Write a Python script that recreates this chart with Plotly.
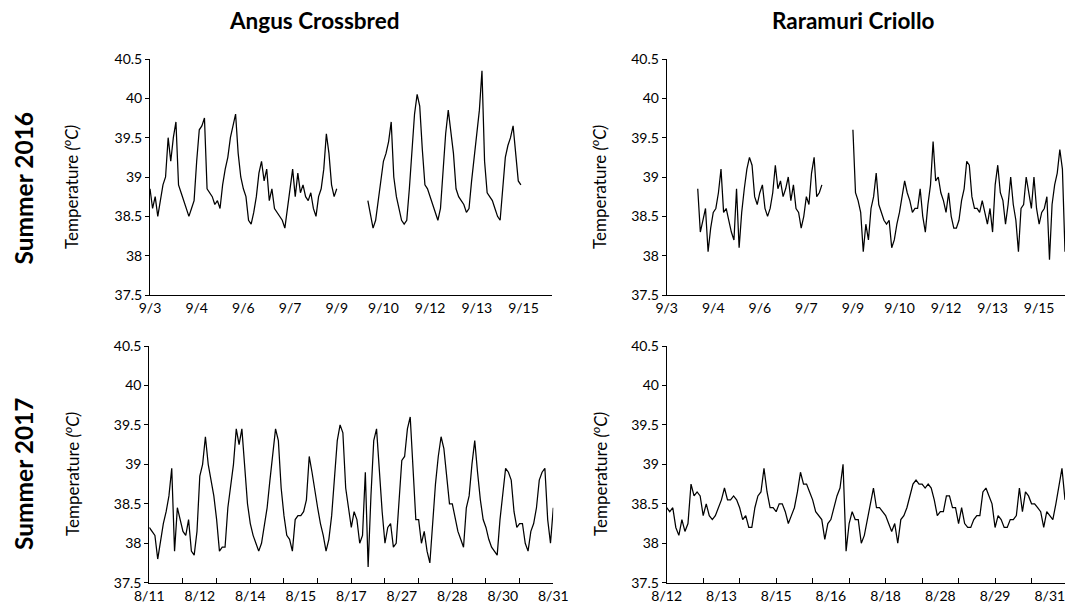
import numpy as np
import plotly.graph_objects as go

# ---------------- data (2-hour samples) ----------------
STEP_H = 2

# Angus Crossbred, summer 2016 (starts 9/3 00:00)
angus_2016_start = 0
angus_2016 = [
    38.85, 38.6, 38.75, 38.5, 38.7, 38.9, 39.0, 39.5, 39.2, 39.5, 39.7, 38.9,
    38.8, 38.7, 38.6, 38.5, 38.6, 38.7, 39.2, 39.6, 39.65, 39.75, 38.85, 38.8,
    38.75, 38.65, 38.7, 38.6, 38.9, 39.1, 39.25, 39.5, 39.65, 39.8, 39.3, 39.0,
    38.85, 38.75, 38.45, 38.4, 38.55, 38.75, 39.05, 39.2, 38.95, 39.1, 38.7, 38.85,
    38.6, 38.55, 38.5, 38.45, 38.35, 38.6, 38.8, 39.1, 38.75, 39.05, 38.8, 38.9,
    38.75, 38.7, 38.8, 38.6, 38.5, 38.75, 38.85, 39.1, 39.55, 39.3, 38.9, 38.75,
    38.85,
    None, None, None, None, None, None, None, None, None, None, None,
    38.7, 38.5, 38.35, 38.45, 38.7, 38.95, 39.2, 39.3, 39.45, 39.7, 39.0, 38.75,
    38.6, 38.45, 38.4, 38.45, 38.85, 39.4, 39.8, 40.05, 39.9, 39.35, 38.9, 38.85,
    38.75, 38.65, 38.55, 38.45, 38.6, 39.1, 39.55, 39.85, 39.6, 39.3, 38.85, 38.75,
    38.7, 38.65, 38.55, 38.6, 38.95, 39.25, 39.6, 39.85, 40.35, 39.2, 38.8, 38.75,
    38.7, 38.6, 38.5, 38.45, 38.9, 39.25, 39.4, 39.5, 39.65, 39.25, 38.95, 38.9,
]

# Raramuri Criollo, summer 2016 (starts 9/4 00:00)
raramuri_2016_start = 24
raramuri_2016 = [
    38.85, 38.3, 38.45, 38.6, 38.05, 38.35, 38.55, 38.6, 38.8, 39.1, 38.55, 38.6,
    38.45, 38.3, 38.2, 38.85, 38.1, 38.55, 38.85, 39.1, 39.25, 39.15, 38.75, 38.65,
    38.8, 38.9, 38.6, 38.5, 38.6, 38.8, 39.15, 38.85, 38.95, 38.75, 38.85, 39.0,
    38.7, 38.9, 38.6, 38.55, 38.35, 38.5, 38.75, 38.65, 39.05, 39.25, 38.75, 38.8,
    38.9,
    None, None, None, None, None, None, None, None, None, None, None,
    39.6, 38.8, 38.7, 38.55, 38.05, 38.4, 38.2, 38.6, 38.75, 39.05, 38.65, 38.55,
    38.45, 38.4, 38.45, 38.1, 38.2, 38.4, 38.55, 38.75, 38.95, 38.8, 38.7, 38.55,
    38.6, 38.6, 38.85, 38.5, 38.3, 38.65, 38.9, 39.45, 38.95, 39.0, 38.8, 38.7,
    38.55, 38.8, 38.5, 38.35, 38.35, 38.45, 38.7, 38.85, 39.2, 39.15, 38.75, 38.6,
    38.6, 38.55, 38.7, 38.55, 38.4, 38.6, 38.3, 38.9, 39.15, 38.8, 38.7, 38.4,
    38.65, 39.0, 38.65, 38.45, 38.05, 38.6, 38.65, 39.0, 38.8, 38.6, 39.0, 38.6,
    38.4, 38.55, 38.6, 38.75, 37.95, 38.65, 38.9, 39.05, 39.35, 39.1, 38.05,
]

# Angus Crossbred, summer 2017 (starts 8/11 00:00)
angus_2017_start = 0
angus_2017 = [
    38.2, 38.15, 38.1, 37.8, 38.05, 38.25, 38.4, 38.6, 38.95, 37.9,
    38.45, 38.3, 38.15, 38.1, 38.3, 37.9, 37.85, 38.15, 38.85, 39.0,
    39.35, 39.0, 38.8, 38.6, 38.3, 37.9, 37.95, 37.95, 38.45, 38.7,
    39.0, 39.45, 39.25, 39.45, 39.0, 38.5, 38.25, 38.1, 38.0, 37.9,
    38.0, 38.2, 38.45, 38.8, 39.15, 39.45, 39.3, 38.7, 38.35, 38.1,
    38.05, 37.9, 38.3, 38.35, 38.35, 38.4, 38.55, 39.1, 38.9, 38.65,
    38.45, 38.25, 38.1, 37.9, 38.05, 38.35, 38.85, 39.3, 39.5, 39.4,
    38.7, 38.45, 38.2, 38.4, 38.3, 38.0, 38.1, 38.9, 37.7, 38.6,
    39.3, 39.45, 38.9, 38.4, 38.0, 38.2, 38.25, 37.95, 38.0, 38.6,
    39.05, 39.1, 39.45, 39.6, 38.9, 38.3, 38.3, 38.0, 38.15, 37.9,
    37.75, 38.3, 38.75, 39.1, 39.35, 39.2, 38.8, 38.5, 38.5, 38.3,
    38.15, 38.05, 37.95, 38.45, 38.6, 39.0, 39.3, 38.9, 38.55, 38.3,
    38.2, 38.05, 37.95, 37.9, 37.85, 38.3, 38.65, 38.95, 38.9, 38.8,
    38.4, 38.2, 38.25, 38.25, 38.0, 37.9, 38.15, 38.25, 38.45, 38.8,
    38.9, 38.95, 38.3, 38.0, 38.45,
]

# Raramuri Criollo, summer 2017 (starts 8/12 00:00)
raramuri_2017_start = 0
raramuri_2017 = [
    38.45, 38.4, 38.45, 38.2, 38.1, 38.3, 38.15, 38.25, 38.75, 38.6,
    38.65, 38.6, 38.35, 38.5, 38.35, 38.3, 38.35, 38.45, 38.55, 38.7,
    38.55, 38.55, 38.6, 38.55, 38.45, 38.3, 38.35, 38.2, 38.2, 38.45,
    38.6, 38.65, 38.95, 38.65, 38.45, 38.45, 38.4, 38.5, 38.5, 38.4,
    38.25, 38.35, 38.45, 38.65, 38.9, 38.75, 38.75, 38.65, 38.55, 38.4,
    38.35, 38.3, 38.05, 38.25, 38.3, 38.45, 38.6, 38.7, 39.0, 37.9,
    38.25, 38.4, 38.3, 38.3, 38.0, 38.1, 38.3, 38.45, 38.7, 38.45,
    38.45, 38.4, 38.35, 38.25, 38.15, 38.25, 38.0, 38.3, 38.35, 38.45,
    38.6, 38.75, 38.8, 38.75, 38.75, 38.7, 38.75, 38.7, 38.55, 38.35,
    38.4, 38.4, 38.6, 38.6, 38.45, 38.45, 38.25, 38.45, 38.25, 38.2,
    38.2, 38.3, 38.35, 38.35, 38.65, 38.7, 38.6, 38.5, 38.2, 38.35,
    38.3, 38.2, 38.2, 38.3, 38.3, 38.35, 38.7, 38.4, 38.65, 38.6,
    38.5, 38.5, 38.45, 38.4, 38.2, 38.4, 38.35, 38.3, 38.5, 38.7,
    38.95, 38.55,
]

# tick labels (one every 36 h)
labels_2016 = ["9/3", "9/4", "9/6", "9/7", "9/9", "9/10", "9/12", "9/13", "9/15"]
labels_angus_2017 = ["8/11", "8/12", "8/14", "8/15", "8/17", "8/27", "8/28", "8/30", "8/31"]
labels_raramuri_2017 = ["8/12", "8/13", "8/15", "8/16", "8/18", "8/28", "8/29", "8/31"]
y_ticks = [37.5, 38, 38.5, 39, 39.5, 40, 40.5]
y_ticktext = ["37.5", "38", "38.5", "39", "39.5", "40", "40.5"]

col_titles = ["Angus Crossbred", "Raramuri Criollo"]
row_titles = ["Summer 2016", "Summer 2017"]

# ---------------- figure ----------------
W, H = 1065, 609
FONT = "Lato, 'Open Sans', sans-serif"


def hours(start, vals):
    return start + STEP_H * np.arange(len(vals))


fig = go.Figure()
series = [
    (angus_2016_start, angus_2016, "x", "y"),
    (raramuri_2016_start, raramuri_2016, "x2", "y2"),
    (angus_2017_start, angus_2017, "x3", "y3"),
    (raramuri_2017_start, raramuri_2017, "x4", "y4"),
]
for start, vals, xa, ya in series:
    fig.add_trace(go.Scatter(
        x=hours(start, vals), y=vals, mode="lines",
        line=dict(color="black", width=1.25),
        xaxis=xa, yaxis=ya, showlegend=False, hoverinfo="skip",
        connectgaps=False,
    ))

# invisible traces so the tick-mark-only axes are drawn
for xa, ya in (("x5", "y3"), ("x6", "y4")):
    fig.add_trace(go.Scatter(x=[0], y=[None], mode="lines", xaxis=xa, yaxis=ya,
                             showlegend=False, hoverinfo="skip"))

# plot areas in pixels
px_left = (150, 552)
px_right = (666.7, 1065)
px_left_b = (149.3, 553.3)
row_top = (59, 295)
row_bot = (346, 582.7)


def xd(a, b):
    return [a / W, min(b / W, 1.0)]


def yd(top, bottom):
    return [1 - bottom / H, 1 - top / H]


tickfont = dict(family=FONT, size=14, color="black")
common_x = dict(showgrid=False, zeroline=False, showline=True, linecolor="black",
                linewidth=1, tickfont=tickfont, tickmode="array", fixedrange=True,
                automargin=False, ticklabeloverflow="allow")
common_y = dict(showgrid=False, zeroline=False, showline=True, linecolor="black",
                linewidth=1, tickfont=tickfont, tickmode="array", tickvals=y_ticks,
                ticktext=y_ticktext, range=[37.5, 40.5], ticks="outside", ticklen=4,
                tickcolor="black", fixedrange=True, automargin=False)
tick_only = dict(tickmode="array", ticks="inside", ticklen=5, tickcolor="black",
                 showticklabels=False, showline=False, showgrid=False,
                 zeroline=False, fixedrange=True, automargin=False)

lab_pos_16 = [36 * i for i in range(len(labels_2016))]
lab_pos_a17 = [36 * i for i in range(len(labels_angus_2017))]
lab_pos_r17 = [36 * i for i in range(len(labels_raramuri_2017))]

fig.update_layout(
    width=W, height=H, margin=dict(l=0, r=0, t=0, b=0, pad=0, autoexpand=False),
    paper_bgcolor="white", plot_bgcolor="white",
    font=dict(family=FONT, color="black"),
    xaxis=dict(common_x, domain=xd(*px_left), anchor="y", range=[0, 310],
               tickvals=lab_pos_16, ticktext=labels_2016, ticks=""),
    yaxis=dict(common_y, domain=yd(*row_top), anchor="x"),
    xaxis2=dict(common_x, domain=xd(*px_right), anchor="y2", range=[0, 308],
                tickvals=lab_pos_16, ticktext=labels_2016, ticks=""),
    yaxis2=dict(common_y, domain=yd(*row_top), anchor="x2"),
    xaxis3=dict(common_x, domain=xd(*px_left_b), anchor="y3", range=[0, 288],
                tickvals=lab_pos_a17, ticktext=labels_angus_2017, ticks=""),
    yaxis3=dict(common_y, domain=yd(*row_bot), anchor="x3"),
    xaxis4=dict(common_x, domain=xd(*px_right), anchor="y4", range=[0, 262],
                tickvals=lab_pos_r17, ticktext=labels_raramuri_2017, ticks=""),
    yaxis4=dict(common_y, domain=yd(*row_bot), anchor="x4"),
    xaxis5=dict(tick_only, overlaying="x3", anchor="y3", range=[0, 288],
                tickvals=list(range(0, 289, 24))),
    xaxis6=dict(tick_only, overlaying="x4", anchor="y4", range=[0, 262],
                tickvals=list(range(0, 263, 24))),
)

ann = []
# column titles
for txt, cx in zip(col_titles, (314, 853)):
    ann.append(dict(text=f"<b>{txt}</b>", x=cx / W, y=1 - 21 / H, xref="paper",
                    yref="paper", showarrow=False, xanchor="center", yanchor="middle",
                    font=dict(family=FONT, size=22.5, color="black")))
# row titles
for txt, cy in zip(row_titles, (188.5, 474)):
    ann.append(dict(text=f"<b>{txt}</b>", x=23 / W, y=1 - cy / H, xref="paper",
                    yref="paper", showarrow=False, xanchor="center", yanchor="middle",
                    textangle=-90, font=dict(family=FONT, size=24.5, color="black")))
# y-axis titles
for cx in (71, 599):
    for cy in (187, 474):
        ann.append(dict(text="Temperature <i>(<sup>o</sup>C)</i>", x=cx / W,
                        y=1 - cy / H, xref="paper", yref="paper", showarrow=False,
                        xanchor="center", yanchor="middle", textangle=-90,
                        font=dict(family=FONT, size=17, color="black")))
fig.update_layout(annotations=ann)

# the page body has a default 8px margin; remove it so the figure fills the window
fig.write_html("out.html",
               config={"displayModeBar": False, "staticPlot": True},
               post_script="document.body.style.margin='0';"
                           "document.body.style.overflow='hidden';")
